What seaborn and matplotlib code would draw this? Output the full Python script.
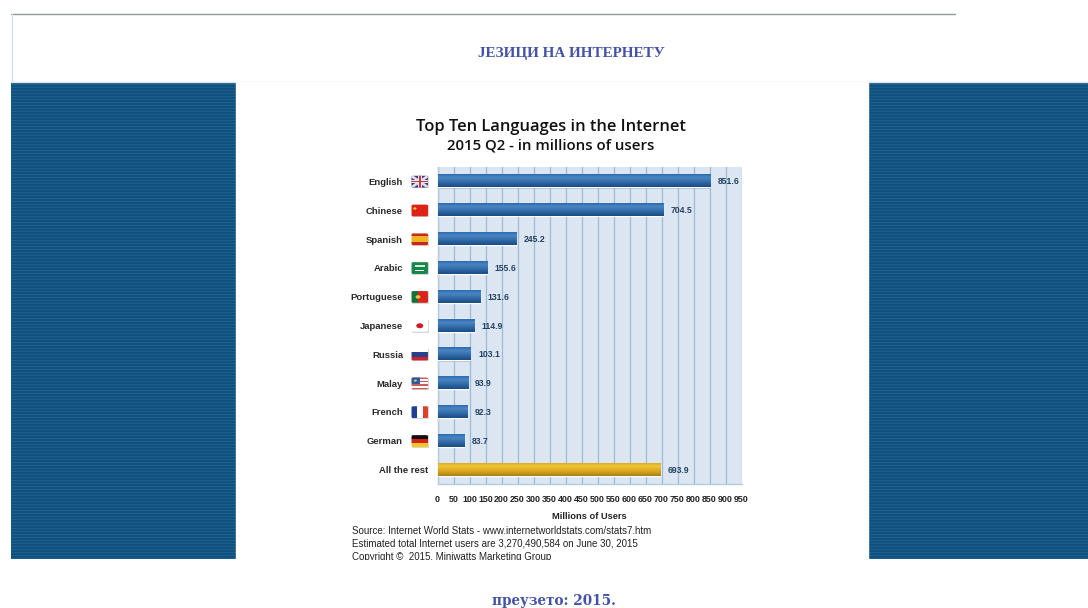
import numpy as np
import pandas as pd
import seaborn as sns
import matplotlib
matplotlib.use("Agg")
import matplotlib.pyplot as plt
from matplotlib.patches import Rectangle, Polygon, Circle, FancyBboxPatch
from matplotlib.colors import LinearSegmentedColormap
from matplotlib.ticker import MultipleLocator

languages = ["English", "Chinese", "Spanish", "Arabic", "Portuguese", "Japanese",
             "Russia", "Malay", "French", "German", "All the rest"]
users = [851.6, 704.5, 245.2, 155.6, 131.6, 114.9, 103.1, 93.9, 92.3, 83.7, 693.9]
value_labels = ["851.6", "704.5", "245.2", "155.6", "131.6", "114.9",
                "103.1", "93.9", "92.3", "83.7", "693.9"]
flags = ["uk", "cn", "es", "sa", "pt", "jp", "ru", "my", "fr", "de", None]
page_heading = "ЈЕЗИЦИ НА ИНТЕРНЕТУ"
page_footer = "преузето: 2015."
chart_title = "Top Ten Languages in the Internet"
chart_subtitle = "2015 Q2 - in millions of users"
x_label = "Millions of Users"
source_lines = ["Source: Internet World Stats - www.internetworldstats.com/stats7.htm",
                "Estimated total Internet users are 3,270,490,584 on June 30, 2015",
                "Copyright ©  2015. Miniwatts Marketing Group"]

W, H = 1088, 608
sns.set_theme(style="white")
plt.rcParams["font.family"] = ["Liberation Sans", "DejaVu Sans"]

fig = plt.figure(figsize=(W / 100, H / 100), dpi=100, facecolor="white")


def px_axes(x0, y0, x1, y1, **kw):
    """Axes placed by pixel box, y measured from the top of the figure."""
    return fig.add_axes([x0 / W, 1 - y1 / H, (x1 - x0) / W, (y1 - y0) / H], **kw)


# page furniture in pixel coordinates
page = px_axes(0, 0, W, H)
page.set_xlim(0, W)
page.set_ylim(H, 0)
page.axis("off")
page.plot([11, 955], [13.5, 13.5], color="#8f9c9e", lw=1)
page.plot([11.5, 11.5], [14, 82], color="#d5dfe4", lw=1)
page.plot([11, 1088], [82, 82], color="#d8e4ea", lw=1)
page.add_patch(Rectangle((236, 82), 631.5, 482, color="white", zorder=2))
for x0, x1 in [(11, 235.5), (867.5, 1088)]:
    page.add_patch(Rectangle((x0, 83), x1 - x0, 476, color="#11517f", lw=0))
    for y in np.arange(84, 559, 3.0):
        page.add_patch(Rectangle((x0, y), x1 - x0, 1.2, color="#1d5f8c", lw=0))
page.text(571, 54, page_heading, family="Liberation Serif", weight="bold",
          fontsize=10.9, color="#4453a8", ha="center", va="center")
page.text(554, 601, page_footer, family="DejaVu Serif", weight="bold",
          fontsize=9.8, color="#4453a8", ha="center", va="center")
page.text(551, 127, chart_title, family="Open Sans", weight="semibold",
          fontsize=11.9, color="#111111", ha="center", va="center", zorder=3)
page.text(551, 145.5, chart_subtitle, family="Open Sans", weight="semibold",
          fontsize=10.85, color="#111111", ha="center", va="center", zorder=3)
clip = Rectangle((340, 520), 340, 39.5, transform=page.transData)
for y, line in zip([531, 544, 556.5], source_lines):
    t = page.text(352, y, line, fontsize=7.05, color="#222222", ha="left",
                  va="center", zorder=3, clip_on=True)
    t.set_clip_path(clip)

# the bar chart itself
AX = (437.5, 167, 741.5, 484)
ax = px_axes(*AX, facecolor="#dbe6f2")
ax.set_zorder(5)
df = pd.DataFrame({"language": languages, "users": users})
sns.barplot(data=df, x="users", y="language", orient="h", ax=ax, width=0.42,
            color="#2b63a8", saturation=1, zorder=3)
ax.set_xlim(0, 950)
ax.set_ylim(len(languages) - 0.5, -0.5)
ax.xaxis.set_major_locator(MultipleLocator(50))
ax.grid(axis="x", color="#9dbad4", lw=0.9, zorder=1)
ax.set_axisbelow(True)
for side, spine in ax.spines.items():
    spine.set_visible(side in ("left", "bottom"))
    spine.set_color("#b5cbde")
    spine.set_linewidth(1)

blue = LinearSegmentedColormap.from_list("blue", ["#2f6cae", "#4a86c2", "#3a75b2", "#28609c", "#1a4c84"])
gold = LinearSegmentedColormap.from_list("gold", ["#e0ae22", "#f0c63a", "#e0b020", "#cc9a1c", "#a97e18"])
grad = np.linspace(0, 1, 32)[:, None]
for i, bar in enumerate(ax.patches):
    x, y, w, h = bar.get_x(), bar.get_y(), bar.get_width(), bar.get_height()
    ax.add_patch(Rectangle((x, y + 0.04), w + 3, h, color="#7f8fa0", alpha=0.5, lw=0, zorder=2.5))
    ax.imshow(grad, extent=(x, x + w, y + h, y), aspect="auto", zorder=3.5,
              cmap=gold if languages[i] == "All the rest" else blue)
    ax.text(users[i] + 24, i + 0.02, value_labels[i], fontsize=6.2, weight="bold", color="#24405f",
            va="center", ha="left", zorder=4)
ax.set_xlim(0, 950)
ax.set_ylim(len(languages) - 0.5, -0.5)
ax.set_xlabel(x_label, fontsize=6.7, weight="bold", color="#222222", labelpad=5.7)
ax.set_ylabel("")
ax.tick_params(axis="x", length=3, color="#8aa8c2", labelsize=6.4, pad=4.8, labelcolor="#222222")
ax.tick_params(axis="y", length=0, labelsize=6.8, labelcolor="#2a2a2a")
for lab in ax.get_xticklabels():
    lab.set_fontweight("bold")
for lab, tick, name in zip(ax.get_yticklabels(), ax.yaxis.get_major_ticks(), languages):
    lab.set_fontweight("bold")
    tick.set_pad(6.6 if name == "All the rest" else 24.8)
ax.set_yticks(np.arange(-0.5, len(languages)), minor=True)
ax.tick_params(axis="y", which="minor", length=3, color="#b5cbde")

RED, WHITE, NAVY = "#cc2229", "#ffffff", "#2f3a80"


def draw_flag(code, box):
    fa = px_axes(*box)
    fa.set_xlim(0, 1)
    fa.set_ylim(0, 1)
    fa.axis("off")
    fa.set_zorder(6)
    border = FancyBboxPatch((0.03, 0.03), 0.94, 0.94, boxstyle="round,pad=0,rounding_size=0.1",
                            transform=fa.transAxes, fc="none", ec="none")
    fa.add_patch(border)
    parts = []

    def stripes(colors, vertical=False, weights=None):
        weights = weights or [1] * len(colors)
        edges = np.cumsum([0] + weights) / sum(weights)
        for c, a, b in zip(colors, edges[:-1], edges[1:]):
            if vertical:
                parts.append(Rectangle((a, 0), b - a, 1, color=c, lw=0))
            else:
                parts.append(Rectangle((0, 1 - b), 1, b - a, color=c, lw=0))

    if code == "uk":
        stripes([NAVY])
        for pts in ([(0, 0.85), (0, 1), (0.12, 1), (1, 0.15), (1, 0), (0.88, 0)],
                    [(0, 0.15), (0, 0), (0.12, 0), (1, 0.85), (1, 1), (0.88, 1)]):
            parts.append(Polygon(pts, color="#e8dbe4", lw=0))
        parts.append(Rectangle((0.38, 0), 0.24, 1, color="#efe3e8", lw=0))
        parts.append(Rectangle((0, 0.36), 1, 0.28, color="#efe3e8", lw=0))
        parts.append(Rectangle((0.45, 0), 0.1, 1, color="#b8404e", lw=0))
        parts.append(Rectangle((0, 0.44), 1, 0.12, color="#b8404e", lw=0))
    elif code == "cn":
        stripes(["#dd2218"])
        parts.append(Circle((0.22, 0.66), 0.09, color="#f6d32a", lw=0))
    elif code == "es":
        stripes(["#c8281c", "#f0b323", "#c8281c"], weights=[1, 2, 1])
    elif code == "sa":
        stripes(["#17864a"])
        parts.append(Rectangle((0.2, 0.55), 0.6, 0.2, color="#d5ecdc", lw=0))
        parts.append(Rectangle((0.25, 0.3), 0.5, 0.07, color="#ffffff", lw=0))
    elif code == "pt":
        stripes(["#14713c", "#d8261c"], vertical=True, weights=[2, 3])
        parts.append(Circle((0.4, 0.5), 0.14, color="#e7c53a", lw=0))
    elif code == "jp":
        stripes([WHITE])
        parts.append(Circle((0.5, 0.5), 0.2, color="#d01c2a", lw=0))
    elif code == "ru":
        stripes([WHITE, "#27408b", "#cc2229"])
    elif code == "my":
        stripes(["#cc5b5b", WHITE] * 3 + ["#cc5b5b"])
        parts.append(Rectangle((0, 0.45), 0.5, 0.55, color="#2f5a9a", lw=0))
        parts.append(Circle((0.25, 0.72), 0.08, color="#f0d040", lw=0))
    elif code == "fr":
        stripes(["#1f3f94", WHITE, "#e0402a"], vertical=True)
    elif code == "de":
        stripes(["#111111", "#cf1f1f", "#f3c61a"])
    for p in parts:
        fa.add_patch(p)
        p.set_clip_path(border)


for i, code in enumerate(flags):
    if code is None:
        continue
    yc = AX[1] + (AX[3] - AX[1]) * (i + 0.5) / len(languages)
    page.add_patch(Rectangle((411.5, yc - 5.5), 17.5, 12.5, color="#aaaaaa", alpha=0.45, lw=0, zorder=3))
    draw_flag(code, (411, yc - 6, 428.5, yc + 6.5))

fig.savefig("out.png", dpi=100)
